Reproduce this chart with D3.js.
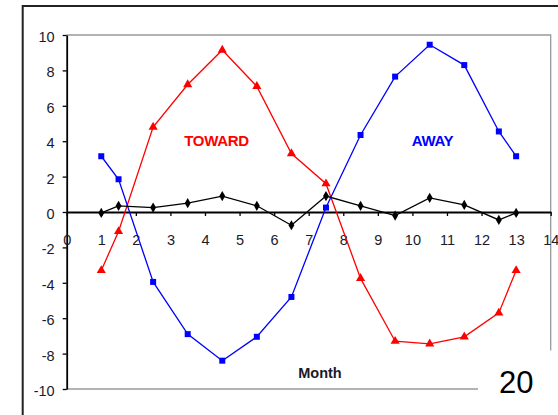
<!DOCTYPE html>
<html>
<head>
<meta charset="utf-8">
<script src="https://cdn.jsdelivr.net/npm/d3@7/dist/d3.min.js"></script>
<style>
  html, body { margin: 0; padding: 0; background: #fff; }
  svg { display: block; }
  text { font-family: Arial, "Liberation Sans", sans-serif; }
</style>
</head>
<body>
<svg id="chart" width="558" height="415"></svg>
<script>
// Monthly positions (mid-month samples plus the end points)
const months = [1, 1.5, 2.5, 3.5, 4.5, 5.5, 6.5, 7.5, 8.5, 9.5, 10.5, 11.5, 12.5, 13];
// Series values
const toward = [-3.3, -1.1, 4.8, 7.2, 9.15, 7.1, 3.3, 1.6, -3.75, -7.3, -7.45, -7.05, -5.7, -3.3];
const away   = [3.15, 1.85, -3.95, -6.9, -8.4, -7.05, -4.8, 0.25, 4.35, 7.65, 9.45, 8.3, 4.55, 3.15];
const net    = [-0.05, 0.35, 0.25, 0.5, 0.9, 0.35, -0.75, 0.9, 0.35, -0.2, 0.8, 0.4, -0.45, -0.05];
// Tick labels
const xTicks = [0, 1, 2, 3, 4, 5, 6, 7, 8, 9, 10, 11, 12, 13, 14];
const yTicks = [-10, -8, -6, -4, -2, 0, 2, 4, 6, 8, 10];

const svg = d3.select("#chart");

const plot = { left: 66.7, right: 550.7, top: 35, bottom: 389 };
const x = d3.scaleLinear().domain([0, 14]).range([plot.left, plot.right]);
const y = d3.scaleLinear().domain([-10, 10]).range([plot.bottom, plot.top]);

// Plain hyphen for negatives
const fmt = d => String(d);

// Outer frame (top and left edges)
svg.append("path")
  .attr("d", `M22.7,415 L22.7,6 L558,6`)
  .attr("fill", "none")
  .attr("stroke", "#222")
  .attr("stroke-width", 2);

// Plot area border (grey top, right, bottom)
svg.append("path")
  .attr("d", `M${plot.left},${plot.top} L${plot.right},${plot.top} L${plot.right},${plot.bottom} L${plot.left},${plot.bottom}`)
  .attr("fill", "none")
  .attr("stroke", "#9a9a9a")
  .attr("stroke-width", 1.3);

// Y axis
const yAxis = svg.append("g")
  .attr("transform", `translate(${plot.left},0)`)
  .call(d3.axisLeft(y).tickValues(yTicks).tickFormat(fmt).tickSize(4).tickSizeOuter(0).tickPadding(8));
yAxis.select(".domain").attr("stroke", "#000").attr("stroke-width", 1.8);
yAxis.selectAll(".tick line").attr("stroke", "#000").attr("stroke-width", 1.3);
yAxis.selectAll(".tick text")
  .attr("font-size", 14.5).attr("fill", "#1a1a2a")
  .attr("font-family", "Arial, 'Liberation Sans', sans-serif")
  .attr("dy", "0.45em");

// X axis along zero
const xAxis = svg.append("g")
  .attr("transform", `translate(0,${y(0)})`)
  .call(d3.axisBottom(x).tickValues(xTicks).tickFormat(fmt).tickSize(4).tickSizeOuter(0).tickPadding(19));
xAxis.select(".domain").attr("stroke", "#000").attr("stroke-width", 1.8);
xAxis.selectAll(".tick line").attr("stroke", "#000").attr("stroke-width", 1.3);
xAxis.selectAll(".tick text")
  .attr("font-size", 14.5).attr("fill", "#1a1a2a")
  .attr("font-family", "Arial, 'Liberation Sans', sans-serif");

// Series
const series = [
  { name: "toward", values: toward, color: "#ff0000", marker: d3.symbolTriangle, size: 36 },
  { name: "away",   values: away,   color: "#0000ff", marker: d3.symbolSquare,   size: 36 },
  { name: "net",    values: net,    color: "#000000", marker: d3.symbolDiamond,  size: 30 }
];

const line = d3.line()
  .x(d => x(d[0]))
  .y(d => y(d[1]));

series.forEach(s => {
  const pts = months.map((m, i) => [m, s.values[i]]);
  const g = svg.append("g").attr("class", "series-" + s.name);
  g.append("path")
    .datum(pts)
    .attr("d", line)
    .attr("fill", "none")
    .attr("stroke", s.color)
    .attr("stroke-width", 1.3);
  g.selectAll("path.marker")
    .data(pts)
    .join("path")
    .attr("class", "marker")
    .attr("transform", d => `translate(${x(d[0])},${y(d[1])})`)
    .attr("d", d3.symbol().type(s.marker).size(s.size))
    .attr("fill", s.color);
});

// Series labels
svg.append("text")
  .attr("x", 216.5).attr("y", 146)
  .attr("text-anchor", "middle")
  .attr("font-size", 15).attr("font-weight", "bold")
  .attr("letter-spacing", -0.3)
  .attr("fill", "#ff0000")
  .text("TOWARD");

svg.append("text")
  .attr("x", 432.5).attr("y", 146)
  .attr("text-anchor", "middle")
  .attr("font-size", 15).attr("font-weight", "bold")
  .attr("letter-spacing", -0.3)
  .attr("fill", "#0000ff")
  .text("AWAY");

// Axis title
svg.append("text")
  .attr("x", 320).attr("y", 377.5)
  .attr("text-anchor", "middle")
  .attr("font-size", 14.5).attr("font-weight", "bold")
  .attr("fill", "#1a1a2a")
  .text("Month");

// Page number box
svg.append("rect")
  .attr("x", 478).attr("y", 350.5)
  .attr("width", 80).attr("height", 65)
  .attr("fill", "#fff");
svg.append("text")
  .attr("x", 516.3).attr("y", 393)
  .attr("text-anchor", "middle")
  .attr("font-size", 31)
  .attr("fill", "#000")
  .text("20");
</script>
</body>
</html>
